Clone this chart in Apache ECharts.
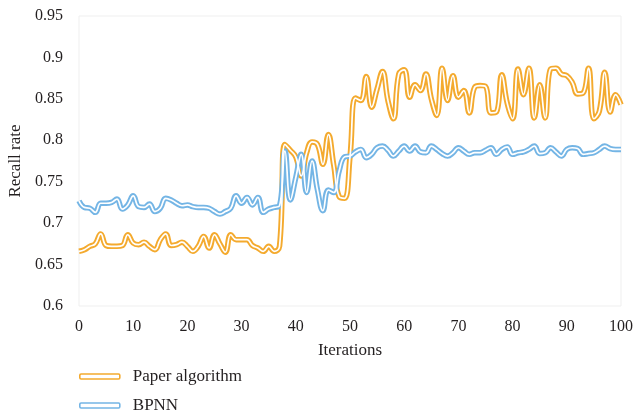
<!DOCTYPE html>
<html>
<head>
<meta charset="utf-8">
<script src="https://cdn.jsdelivr.net/npm/echarts@6/dist/echarts.min.js"></script>
<style>html,body{margin:0;padding:0;background:#fff;}#c{width:633px;height:419px;}</style>
</head>
<body>
<div id="c"></div>
<script>
const iterations = Array.from({length: 101}, (_, i) => i);
const xTicks = [0, 10, 20, 30, 40, 50, 60, 70, 80, 90, 100];
const yTicks = [0.6, 0.65, 0.7, 0.75, 0.8, 0.85, 0.9, 0.95];
const seriesNames = ['Paper algorithm', 'BPNN'];

const paperAlgorithm = [
  0.666, 0.668, 0.672, 0.675, 0.687, 0.673, 0.672, 0.672, 0.673, 0.686,
  0.676, 0.674, 0.677, 0.672, 0.668, 0.680, 0.687, 0.673, 0.674, 0.677,
  0.672, 0.666, 0.672, 0.684, 0.670, 0.686, 0.675, 0.665, 0.686, 0.680,
  0.680, 0.680, 0.673, 0.670, 0.666, 0.672, 0.666, 0.672, 0.795, 0.788,
  0.780, 0.757, 0.785, 0.798, 0.795, 0.771, 0.807, 0.770, 0.732, 0.730,
  0.780, 0.851, 0.848, 0.877, 0.840, 0.862, 0.883, 0.848, 0.826, 0.880,
  0.885, 0.852, 0.867, 0.860, 0.880, 0.850, 0.830, 0.887, 0.848, 0.878,
  0.852, 0.860, 0.833, 0.864, 0.866, 0.865, 0.833, 0.834, 0.879, 0.845,
  0.826, 0.886, 0.855, 0.887, 0.827, 0.867, 0.827, 0.886, 0.887, 0.880,
  0.878, 0.870, 0.856, 0.857, 0.887, 0.826, 0.835, 0.882, 0.834, 0.855,
  0.843
];

const bpnn = [
  0.727, 0.719, 0.718, 0.713, 0.724, 0.724, 0.725, 0.729, 0.717, 0.722,
  0.733, 0.720, 0.719, 0.723, 0.714, 0.718, 0.730, 0.728, 0.724, 0.721,
  0.722, 0.720, 0.719, 0.719, 0.718, 0.714, 0.711, 0.714, 0.718, 0.733,
  0.724, 0.731, 0.722, 0.731, 0.713, 0.717, 0.719, 0.721, 0.787, 0.728,
  0.755, 0.783, 0.737, 0.775, 0.740, 0.715, 0.740, 0.737, 0.763, 0.780,
  0.781, 0.786, 0.789, 0.779, 0.783, 0.791, 0.793, 0.788, 0.781, 0.787,
  0.793, 0.787, 0.793, 0.786, 0.785, 0.793, 0.789, 0.784, 0.781, 0.785,
  0.791, 0.787, 0.783, 0.785, 0.785, 0.788, 0.791, 0.783, 0.789, 0.792,
  0.783, 0.785, 0.786, 0.789, 0.793, 0.784, 0.785, 0.791, 0.786, 0.781,
  0.789, 0.791, 0.790, 0.783, 0.784, 0.785, 0.789, 0.793, 0.790, 0.789,
  0.789
];

const colors = ['#F4AA2E', '#74B5E5'];
const FONT = 'Liberation Serif';
const TXT = '#231f20';

function pairs(arr) { return arr.map((v, i) => [iterations[i], v]); }

function outlined(name, data, color) {
  return [
    {
      name: name, type: 'line', data: pairs(data), smooth: 0.45, symbol: 'none',
      lineStyle: {color: color, width: 5.5}, itemStyle: {color: '#fff', borderColor: color, borderWidth: 1.5},
      z: 2
    },
    {
      name: name + ' (inner)', type: 'line', data: pairs(data), smooth: 0.45, symbol: 'none',
      lineStyle: {color: '#fff', width: 1.7}, silent: true, z: 3
    }
  ];
}

const chart = echarts.init(document.getElementById('c'), null, {renderer: 'canvas'});
chart.setOption({
  animation: false,
  backgroundColor: '#fff',
  grid: {left: 79, right: 12, top: 16, bottom: 113, show: true, borderColor: '#efefef', borderWidth: 1,
    containLabel: false, outerBoundsMode: 'none'},
  legend: {
    data: seriesNames.map((n, i) => ({name: n, itemStyle: {color: '#fff', borderColor: colors[i], borderWidth: 1.6}})),
    orient: 'vertical', left: 79, top: 368, height: 60, padding: 0, itemWidth: 40, itemHeight: 5, itemGap: 12,
    icon: 'roundRect',
    textStyle: {fontFamily: FONT, fontSize: 17, lineHeight: 17, color: TXT, padding: [0, 0, 0, 8]}
  },
  xAxis: {
    type: 'value', min: 0, max: 100, interval: 10,
    name: 'Iterations', nameLocation: 'middle', nameGap: 36,
    nameTextStyle: {fontFamily: FONT, fontSize: 17, color: TXT},
    axisLine: {show: false}, axisTick: {show: false}, splitLine: {show: false},
    axisLabel: {fontFamily: FONT, fontSize: 16, color: TXT, margin: 13,
      formatter: v => xTicks.includes(v) ? String(v) : ''}
  },
  yAxis: {
    type: 'value', min: 0.6, max: 0.95, interval: 0.05,
    name: 'Recall rate', nameLocation: 'middle', nameGap: 53, nameRotate: 90,
    nameTextStyle: {fontFamily: FONT, fontSize: 17, color: TXT},
    axisLine: {show: false}, axisTick: {show: false}, splitLine: {show: false},
    axisLabel: {fontFamily: FONT, fontSize: 16, color: TXT, margin: 16,
      formatter: v => { const t = yTicks.find(y => Math.abs(y - v) < 1e-6); return t === undefined ? '' : String(t); }}
  },
  series: [
    ...outlined(seriesNames[0], paperAlgorithm, colors[0]),
    ...outlined(seriesNames[1], bpnn, colors[1])
  ]
});
</script>
</body>
</html>
